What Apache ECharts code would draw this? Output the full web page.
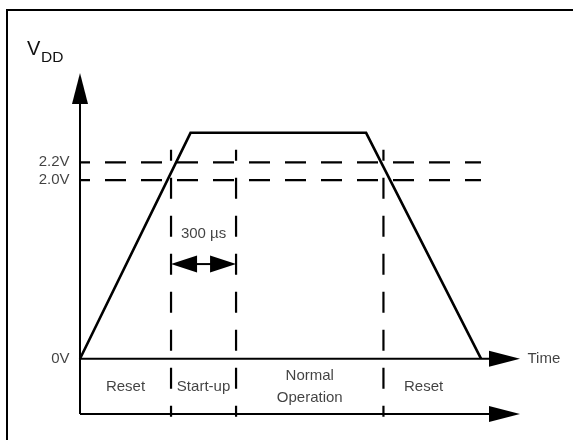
<!DOCTYPE html>
<html><head><meta charset="utf-8">
<script src="https://cdn.jsdelivr.net/npm/echarts@6/dist/echarts.min.js"></script>
<style>html,body{margin:0;padding:0;background:#fff}#c{width:573px;height:440px}</style>
</head><body><div id="c"></div>
<script>
// ---------- data (time in µs, level in volts) ----------
const vddTrace = [[0, 0], [510, 2.53], [1320, 2.53], [1850, 0]];
const thresholdLevels = [2.2, 2.0];
const thresholdEnd = 1850;
const yTickValues = [0, 2.0, 2.2];
const yTickLabels = ['0V', '2.0V', '2.2V'];
const phaseBoundaries = [0, 420, 720, 1400, 1770];
const phaseNames = ['Reset', 'Start-up', 'Normal\nOperation', 'Reset'];
const markerTimes = [420, 720, 1400];
const markerRange = [2.34, -0.65];
const startupSpan = [420, 720];
const startupText = '300 µs';
const startupArrowLevel = 1.06;
const startupTextLevel = 1.40;
const timeEnd = 2030;
const vddTop = 3.2;
const stateRowLevel = -0.62;
const stateTextLevel = -0.31;
const axisTitleX = 'Time';

// ---------- styles ----------
const FONT = 'Liberation Sans';
const arrowStyle = {
  single: { len: 31, half: 8, width: 2 },
  double: { len: 26, half: 8.5, width: 2 }
};

// arrows: [x1, y1, x2, y2, double?]
const arrows = [
  [0, stateRowLevel, 0, vddTop, 0],
  [0, 0, timeEnd, 0, 0],
  [0, stateRowLevel, timeEnd, stateRowLevel, 0],
  [startupSpan[0], startupArrowLevel, startupSpan[1], startupArrowLevel, 1]
];

function renderArrow(params, api) {
  const a = api.coord([api.value(0), api.value(1)]);
  const b = api.coord([api.value(2), api.value(3)]);
  const dbl = api.value(4) === 1;
  const st = dbl ? arrowStyle.double : arrowStyle.single;
  const dx = b[0] - a[0], dy = b[1] - a[1];
  const len = Math.hypot(dx, dy);
  const ux = dx / len, uy = dy / len, nx = -uy, ny = ux;
  const L = st.len, W = st.half;
  const head = (tip, ex, ey) => [
    [tip[0], tip[1]],
    [tip[0] - ex * L + nx * W, tip[1] - ey * L + ny * W],
    [tip[0] - ex * L - nx * W, tip[1] - ey * L - ny * W]
  ];
  const s0 = dbl ? [a[0] + ux * (L - 2), a[1] + uy * (L - 2)] : a;
  const s1 = [b[0] - ux * (L - 2), b[1] - uy * (L - 2)];
  const children = [
    { type: 'line', shape: { x1: s0[0], y1: s0[1], x2: s1[0], y2: s1[1] },
      style: { stroke: '#000', lineWidth: st.width } },
    { type: 'polygon', shape: { points: head(b, ux, uy) }, style: { fill: '#000' } }
  ];
  if (dbl) children.push({ type: 'polygon', shape: { points: head(a, -ux, -uy) }, style: { fill: '#000' } });
  return { type: 'group', children };
}

const series = [];
// threshold dashed lines
thresholdLevels.forEach(v => series.push({
  type: 'line', data: [[0, v], [thresholdEnd, v]], symbol: 'none', silent: true, clip: false,
  lineStyle: { color: '#000', width: 2.2, type: [21, 15], dashOffset: 11 }
}));
// vertical phase markers
markerTimes.forEach(t => series.push({
  type: 'line', data: [[t, markerRange[0]], [t, markerRange[1]]], symbol: 'none', silent: true, clip: false,
  lineStyle: { color: '#000', width: 2.2, type: [21, 17], dashOffset: 10 }
}));
// VDD trace
series.push({
  type: 'line', data: vddTrace, symbol: 'none', silent: true, clip: false,
  lineStyle: { color: '#000', width: 2.6, join: 'miter' }
});
// arrows
series.push({ type: 'custom', renderItem: renderArrow, data: arrows, silent: true, clip: false });

const labelBase = { show: true, fontFamily: FONT, fontSize: 15, color: '#111' };
// y tick labels
series.push({
  type: 'scatter', symbolSize: 1, itemStyle: { color: 'rgba(0,0,0,0)' }, silent: true,
  data: yTickValues.map((v, i) => ({ value: [0, v], name: yTickLabels[i] })),
  label: Object.assign({}, labelBase, { position: 'left', distance: 10, formatter: '{b}' })
});
// phase labels
series.push({
  type: 'scatter', symbolSize: 1, itemStyle: { color: 'rgba(0,0,0,0)' }, silent: true,
  data: phaseNames.map((n, i) => ({ value: [(phaseBoundaries[i] + phaseBoundaries[i + 1]) / 2, stateTextLevel], name: n })),
  label: Object.assign({}, labelBase, { position: 'inside', align: 'center', verticalAlign: 'middle', lineHeight: 22, formatter: '{b}' })
});
// 300 µs label and Time label
series.push({
  type: 'scatter', symbolSize: 1, itemStyle: { color: 'rgba(0,0,0,0)' }, silent: true,
  data: [
    { value: [(startupSpan[0] + startupSpan[1]) / 2, startupTextLevel], name: startupText,
      label: { position: 'inside', align: 'center', verticalAlign: 'middle' } },
    { value: [timeEnd, 0], name: axisTitleX, label: { position: 'right', distance: 7 } }
  ],
  label: Object.assign({}, labelBase, { formatter: '{b}' })
});

const chart = echarts.init(document.getElementById('c'), null, { renderer: 'canvas' });
chart.setOption({
  animation: false,
  backgroundColor: '#fff',
  grid: { left: 80, top: 73, width: 440, height: 348.2 },
  xAxis: { type: 'value', min: 0, max: timeEnd, show: false },
  yAxis: { type: 'value', min: -0.7, max: vddTop, show: false },
  graphic: [
    { type: 'line', shape: { x1: 7, y1: 9, x2: 7, y2: 440 }, style: { stroke: '#000', lineWidth: 2 } },
    { type: 'line', shape: { x1: 6, y1: 10, x2: 573, y2: 10 }, style: { stroke: '#000', lineWidth: 2 } },
    { type: 'text', left: 27, top: 39, style: { text: 'V', font: '20px "Liberation Sans"', fill: '#111' } },
    { type: 'text', left: 41, top: 50, style: { text: 'DD', font: '15.5px "Liberation Sans"', fill: '#111' } }
  ],
  series
});
</script></body></html>
